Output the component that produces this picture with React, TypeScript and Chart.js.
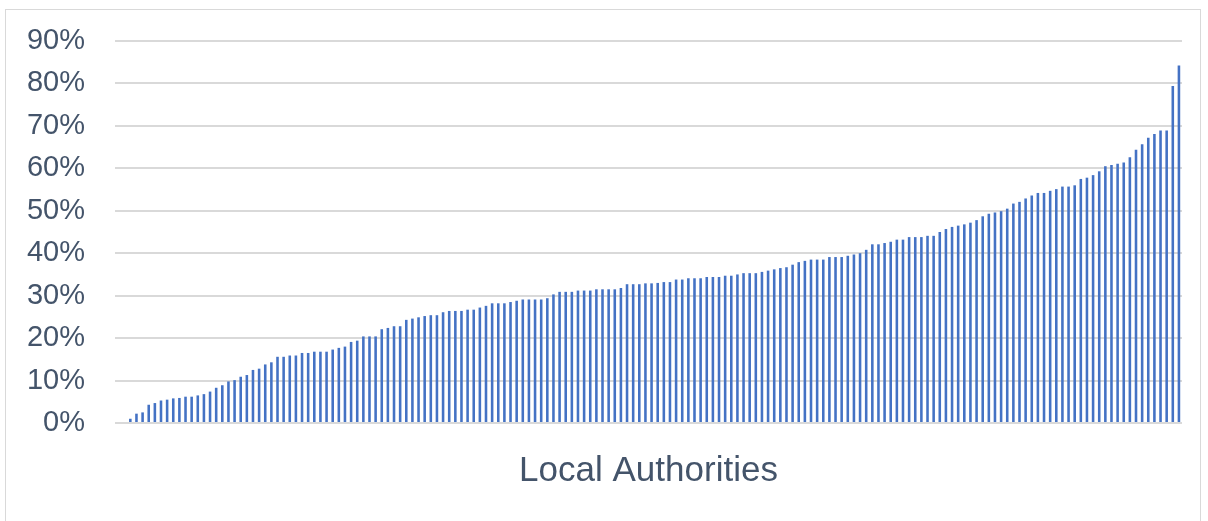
import React, { useEffect, useRef } from "react";
import { Chart, registerables } from "chart.js";

Chart.register(...registerables);

// Share (%) for each local authority, sorted ascending
const shareValues: number[] = [
  0, 0,
  1.0, 2.2, 2.5, 4.3, 4.7, 5.3, 5.5, 5.8, 5.9, 6.2,
  6.2, 6.5, 6.8, 7.4, 8.3, 8.9, 9.8, 10.1, 10.9, 11.3,
  12.5, 12.8, 13.8, 14.3, 15.6, 15.6, 15.9, 15.9, 16.5, 16.5,
  16.8, 16.8, 16.8, 17.3, 17.7, 18.0, 19.1, 19.4, 20.4, 20.4,
  20.4,
  22.1, 22.4, 22.8, 22.8, 24.3, 24.6, 24.9, 25.2, 25.4, 25.4,
  26.1, 26.4, 26.4, 26.4, 26.7, 26.7, 27.2, 27.6, 28.2, 28.2,
  28.2, 28.5, 28.8, 29.1, 29.1, 29.1, 29.1, 29.4, 30.3, 30.9,
  30.9, 30.9, 31.2, 31.2, 31.2, 31.5, 31.5, 31.5, 31.5, 31.8,
  32.7, 32.7, 32.7,
  32.9, 32.9, 33.0, 33.2, 33.2, 33.8, 33.8, 34.1, 34.1, 34.1,
  34.4, 34.4, 34.4, 34.7, 34.7, 35.0, 35.3, 35.3, 35.3, 35.6,
  35.9, 36.2, 36.5, 36.7, 37.3, 37.9, 38.2, 38.5, 38.5, 38.5,
  39.1, 39.1, 39.1, 39.4, 39.7, 40.0, 40.8, 42.1, 42.1, 42.4,
  42.7, 43.2, 43.2, 43.8,
  43.8, 43.8, 44.1, 44.1, 45.0, 45.7, 46.2, 46.5, 46.8, 47.2,
  47.8, 48.7, 49.3, 49.6, 49.9, 50.5, 51.7, 52.1, 52.9, 53.6,
  54.2, 54.2, 54.7, 55.1, 55.7, 55.7, 56.0, 57.5, 57.8, 58.4,
  59.3, 60.5, 60.8, 61.1, 61.4, 62.6, 64.4, 65.7, 67.2, 68.1,
  68.9, 68.9, 79.4, 84.2,
];

const categories: string[] = shareValues.map((_, i) => `LA ${i + 1}`);

const yMin = 0;
const yMax = 90;
const yStep = 10;
const xAxisTitle = "Local Authorities";

const TEXT_COLOR = "#44546A";
const BAR_COLOR = "#4472C4";
const GRID_COLOR = "#D9D9D9";
const FONT_FAMILY = "'Liberation Sans', Arial, sans-serif";

export default function App() {
  const canvasRef = useRef<HTMLCanvasElement | null>(null);

  useEffect(() => {
    if (!canvasRef.current) return;
    const chart = new Chart(canvasRef.current, {
      type: "bar",
      data: {
        labels: categories,
        datasets: [
          {
            data: shareValues,
            backgroundColor: BAR_COLOR,
            borderWidth: 0,
            barPercentage: 0.42,
            categoryPercentage: 1.0,
          },
        ],
      },
      options: {
        animation: false,
        responsive: false,
        maintainAspectRatio: false,
        layout: { padding: { top: 41, right: 26, bottom: 0, left: 0 } },
        plugins: {
          legend: { display: false },
          tooltip: { enabled: false },
          title: { display: false },
        },
        scales: {
          x: {
            grid: { display: false, drawTicks: false },
            border: { display: false },
            ticks: { display: false },
            title: {
              display: true,
              text: xAxisTitle,
              color: TEXT_COLOR,
              font: { family: FONT_FAMILY, size: 35 },
              padding: { top: 27, bottom: 29 },
            },
            afterFit: (scale: any) => {
              scale.height = 98;
            },
          },
          y: {
            min: yMin,
            max: yMax,
            grid: {
              color: GRID_COLOR,
              lineWidth: 2,
              drawTicks: true,
              tickLength: 30,
              tickColor: "rgba(0,0,0,0)",
            },
            border: { display: false },
            ticks: {
              stepSize: yStep,
              padding: 0,
              color: TEXT_COLOR,
              font: { family: FONT_FAMILY, size: 29 },
              callback: (v: any) => `${v}%`,
            },
            afterFit: (scale: any) => {
              scale.width = 115;
            },
          },
        },
      },
    });
    return () => chart.destroy();
  }, []);

  return (
    <div
      style={{
        position: "absolute",
        left: 0,
        top: 0,
        width: 1208,
        height: 521,
        background: "#ffffff",
        overflow: "hidden",
      }}
    >
      <div
        style={{
          position: "absolute",
          left: 5,
          top: 9,
          width: 1196,
          height: 530,
          border: "1px solid #D9D9D9",
          boxSizing: "border-box",
        }}
      />
      <canvas
        ref={canvasRef}
        width={1208}
        height={521}
        style={{ position: "absolute", left: 0, top: 0, width: 1208, height: 521 }}
      />
    </div>
  );
}
